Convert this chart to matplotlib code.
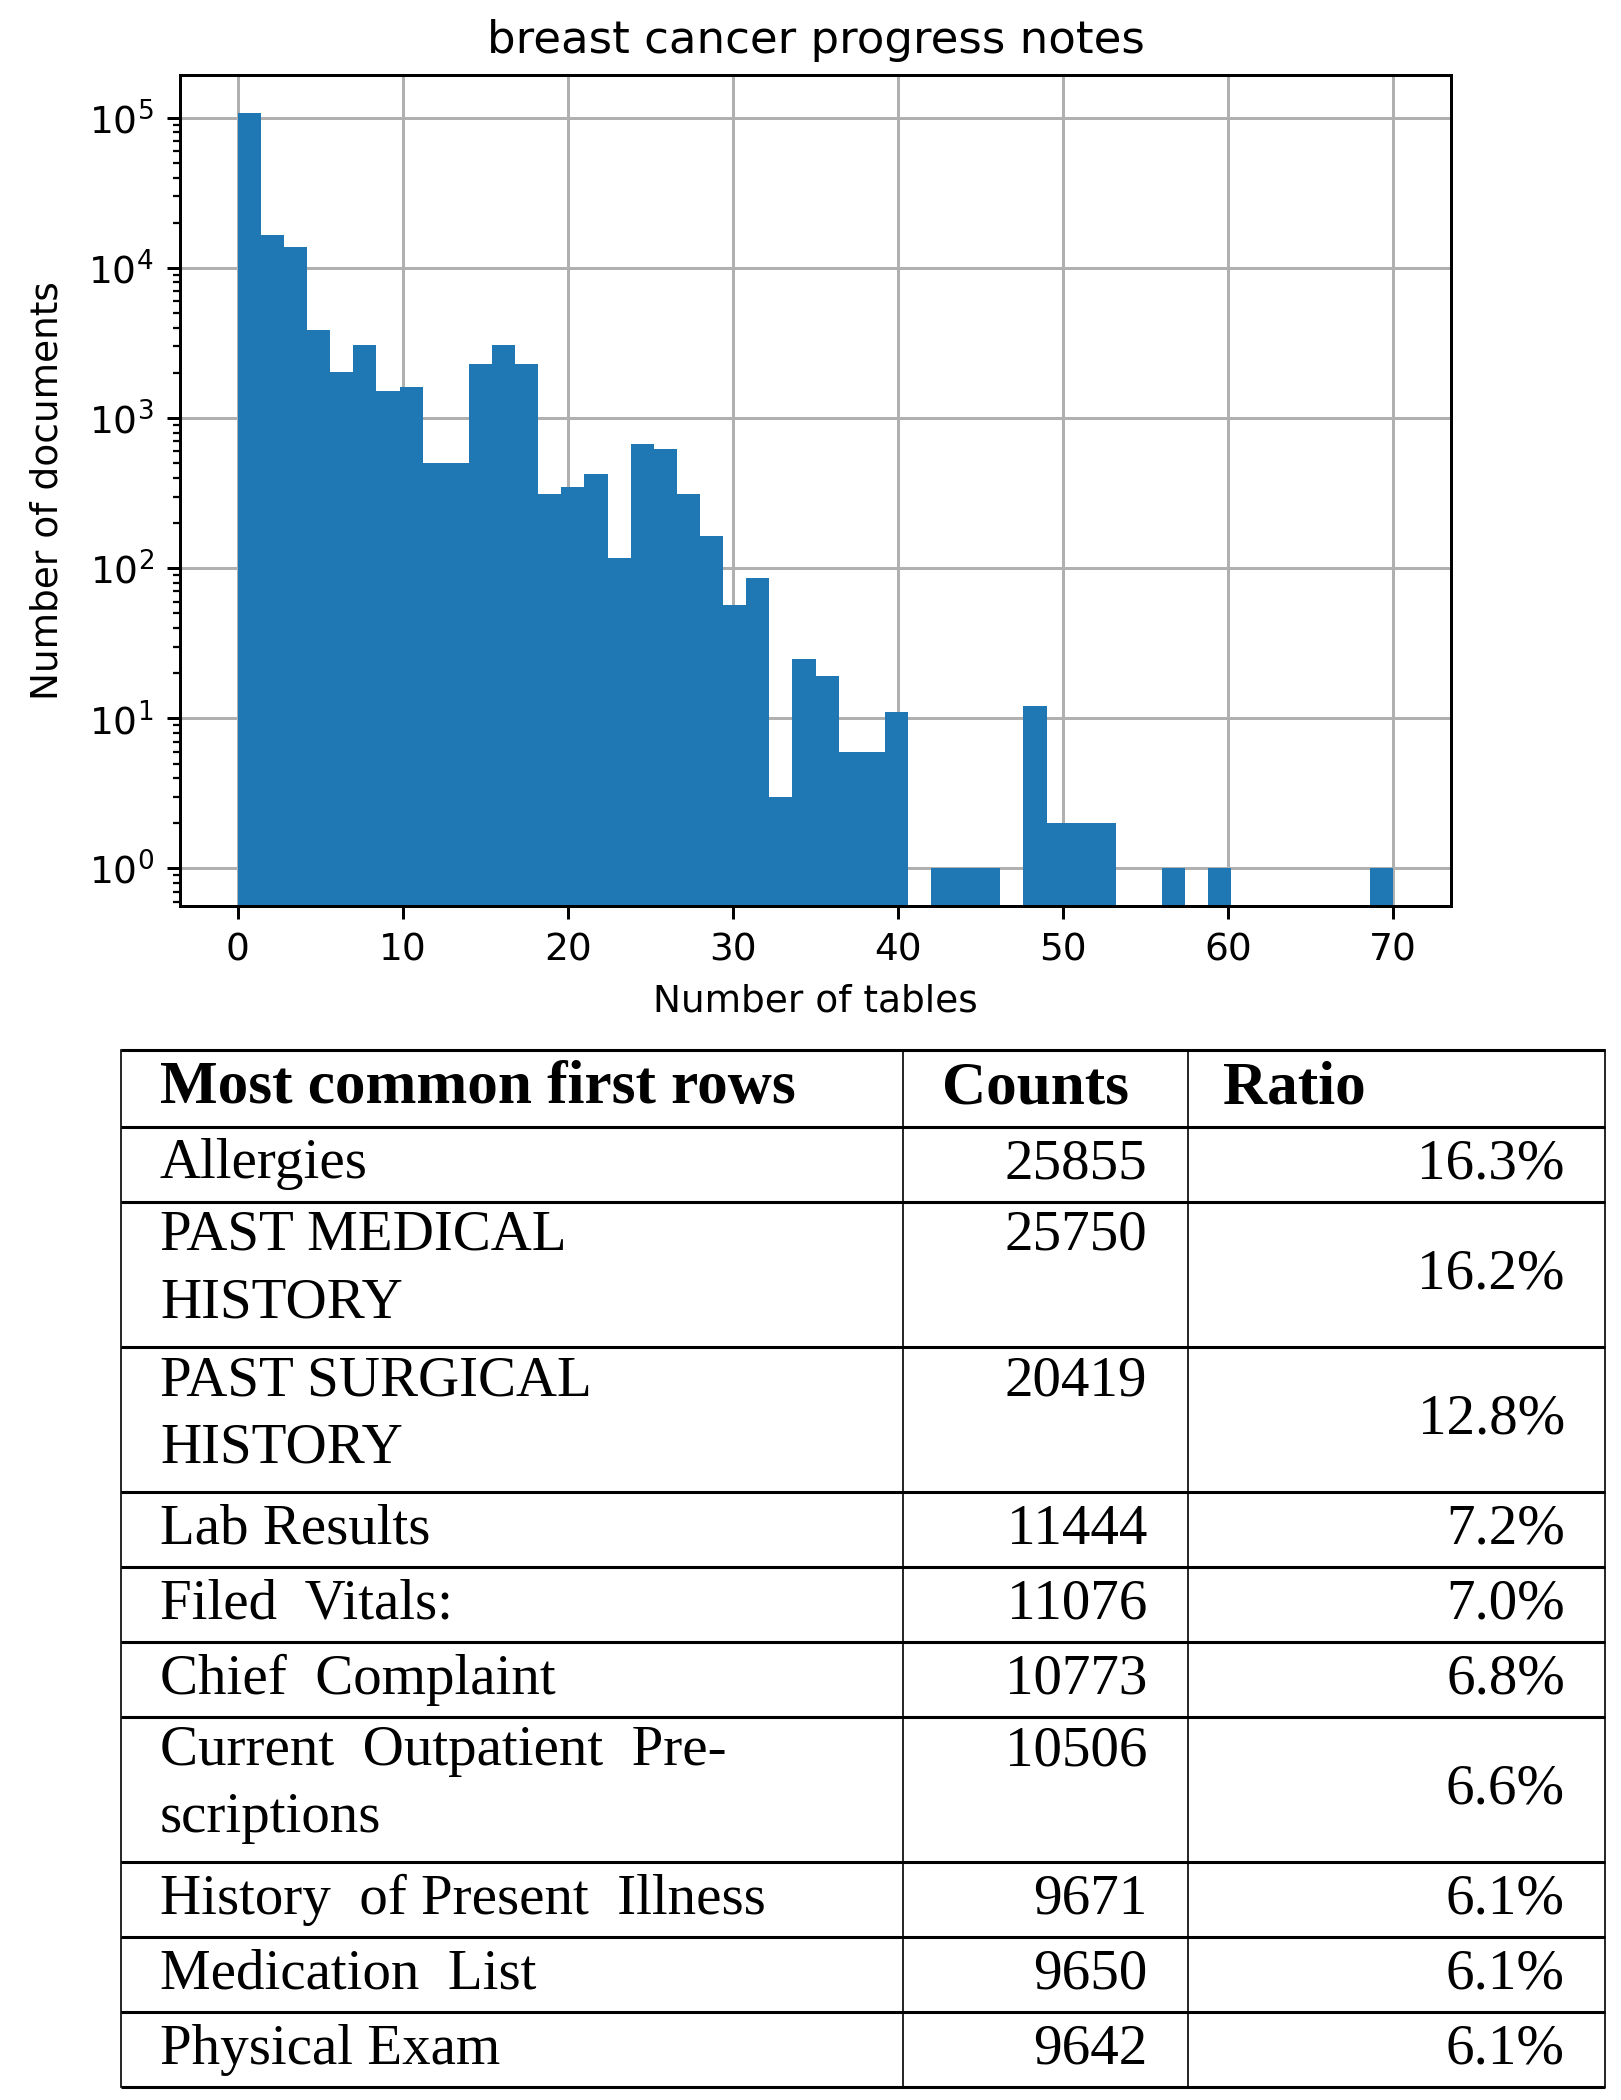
import numpy as np
import matplotlib
matplotlib.use('Agg')
import matplotlib.pyplot as plt

# histogram: number of tables per document, 50 bins over 0..70
bin_edges = np.linspace(0, 70, 51)
doc_counts = [108000, 16600, 13800, 3850, 2030, 3060, 1510, 1600, 505, 505,
              2290, 3060, 2290, 311, 350, 423, 117, 670, 625, 311,
              164, 57, 86, 3, 25, 19, 6, 6, 11, 0,
              1, 1, 1, 0, 12, 2, 2, 2, 0, 0,
              1, 0, 1, 0, 0, 0, 0, 0, 0, 1]

# table of most common first rows
row_labels = ["Allergies", "PAST MEDICAL\nHISTORY", "PAST SURGICAL\nHISTORY",
              "Lab Results", "Filed  Vitals:", "Chief  Complaint",
              "Current  Outpatient  Pre-\nscriptions", "History  of Present  Illness",
              "Medication  List", "Physical Exam"]
row_counts = [25855, 25750, 20419, 11444, 11076, 10773, 10506, 9671, 9650, 9642]
row_ratios = ["16.3%", "16.2%", "12.8%", "7.2%", "7.0%", "6.8%", "6.6%", "6.1%", "6.1%", "6.1%"]
col_headers = ["Most common first rows", "Counts", "Ratio"]

s = 2.7  # scale of the original inline figure
plt.rcParams.update({
    'font.size': 10 * s,
    'axes.linewidth': 0.8 * s,
    'grid.linewidth': 0.8 * s,
    'xtick.major.size': 3.5 * s, 'ytick.major.size': 3.5 * s,
    'xtick.major.width': 0.8 * s, 'ytick.major.width': 0.8 * s,
    'xtick.minor.size': 2 * s, 'ytick.minor.size': 2 * s,
    'xtick.minor.width': 0.6 * s, 'ytick.minor.width': 0.6 * s,
    'xtick.major.pad': 3.5 * s, 'ytick.major.pad': 3.5 * s,
    'axes.labelpad': 4 * s, 'axes.titlepad': 6 * s,
})

W, H = 1621, 2100
fig = plt.figure(figsize=(W / 100, H / 100), dpi=100)

ax = fig.add_axes([180 / W, 1 - 906 / H, (1451 - 180) / W, (906 - 75) / H])
centers = (bin_edges[:-1] + bin_edges[1:]) / 2
ax.hist(centers, bins=bin_edges, weights=doc_counts, color='#1f77b4')
ax.set_yscale('log')
ax.set_ylim(10 ** -0.25, 10 ** 5.285)
ax.set_xlim(-3.5, 73.5)
ax.grid(True, color='#b0b0b0')
ax.set_axisbelow(True)
ax.set_title("breast cancer progress notes", fontsize=12 * s)
ax.set_xlabel("Number of tables")
ax.set_ylabel("Number of documents", labelpad=6 * s)

# table drawn in pixel coordinates
tb = fig.add_axes([0, 0, 1, 1])
tb.set_xlim(0, W)
tb.set_ylim(H, 0)
tb.axis('off')

x_left, x_c1, x_c2, x_right = 121, 903, 1188, 1605
y = 1050
header_h, single_h, double_h = 77, 75, 145
serif = 'Liberation Serif'
fs = 41

bounds = [y]
y += header_h
bounds.append(y)
for lab in row_labels:
    y += double_h if '\n' in lab else single_h
    bounds.append(y)

for b in bounds:
    tb.plot([x_left, x_right], [b, b], color='black', lw=2.2, solid_capstyle='butt')
for xv in [x_left, x_c1, x_c2, x_right]:
    tb.plot([xv, xv], [bounds[0], bounds[-1]], color='black', lw=1.2)

hy = (bounds[0] + bounds[1]) / 2
tb.text(x_left + 39, hy, col_headers[0], family=serif, weight='bold', fontsize=44, va='center', ha='left')
tb.text(x_c1 + 39, hy, col_headers[1], family=serif, weight='bold', fontsize=44, va='center', ha='left')
tb.text(x_c2 + 35, hy, col_headers[2], family=serif, weight='bold', fontsize=44, va='center', ha='left')

for i, lab in enumerate(row_labels):
    top, bot = bounds[i + 1], bounds[i + 2]
    mid = (top + bot) / 2
    if '\n' in lab:
        tb.text(x_left + 39, top + 8, lab, family=serif, fontsize=fs, va='top', ha='left', linespacing=1.38)
        tb.text(x_c2 - 41, top + 8, str(row_counts[i]), family=serif, fontsize=fs, va='top', ha='right')
    else:
        tb.text(x_left + 39, mid, lab, family=serif, fontsize=fs, va='center', ha='left')
        tb.text(x_c2 - 41, mid, str(row_counts[i]), family=serif, fontsize=fs, va='center', ha='right')
    tb.text(x_right - 40, mid, row_ratios[i], family=serif, fontsize=fs, va='center', ha='right')

fig.savefig('out.png', dpi=100)
